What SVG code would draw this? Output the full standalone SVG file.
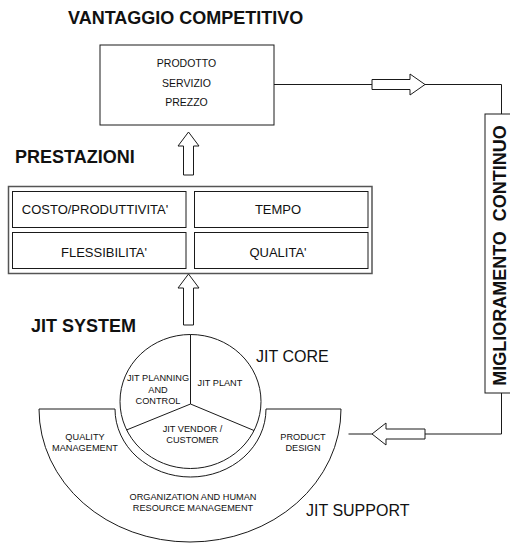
<svg xmlns="http://www.w3.org/2000/svg" width="510" height="543" viewBox="0 0 510 543">
<style>
.ln{fill:none;stroke:#1a1a1a;stroke-width:1}
.bx{fill:#fff;stroke:#1a1a1a;stroke-width:1}
.ob{fill:#fff;stroke:#555;stroke-width:1.5}
.ar{fill:#fff;stroke:#1a1a1a;stroke-width:1}
.t{font-family:"Liberation Sans",Arial,sans-serif;fill:#111;text-anchor:middle}
.h{font-family:"Liberation Sans",Arial,sans-serif;font-weight:bold;fill:#111;font-size:18px}
.s9{font-size:9.2px}
.s10{font-size:10.5px}
.s13{font-size:13px}
.s16{font-size:16px}
</style>
<rect width="510" height="543" fill="#fff"/>

<g id="connectors">
  <polyline class="ln" points="274,84.5 372,84.5"/>
  <polyline class="ln" points="425,84.5 501.5,84.5 501.5,114"/>
  <polyline class="ln" points="501.5,393 501.5,434 425,434"/>
  <line class="ln" x1="372" y1="434" x2="348.5" y2="434"/>
  <polygon class="ar" points="372,79.5 410,79.5 410,74 425,84.5 410,95 410,89.5 372,89.5"/>
  <polygon class="ar" points="425,429 386,429 386,423 372,434 386,445 386,439 425,439"/>
  <polygon class="ar" points="183.5,175 183.5,146 178,146 188.5,132 199,146 193.5,146 193.5,175"/>
  <polygon class="ar" points="183.5,325 183.5,288 178,288 188.5,274 199,288 193.5,288 193.5,325"/>
</g>

<g id="title-vantaggio">
  <text class="h" x="68" y="24">VANTAGGIO COMPETITIVO</text>
</g>

<g id="vantaggio-box">
  <rect class="bx" x="100" y="45" width="174" height="80"/>
  <text class="t s10" x="186.5" y="67">PRODOTTO</text>
  <text class="t s10" x="186.5" y="87">SERVIZIO</text>
  <text class="t s10" x="186.5" y="106">PREZZO</text>
</g>

<g id="title-prestazioni">
  <text class="h" x="15" y="163">PRESTAZIONI</text>
</g>

<g id="prestazioni-box">
  <rect class="ob" x="8.5" y="186.5" width="363.5" height="87"/>
  <g id="costo">
    <rect class="bx" x="12.5" y="191.5" width="173.5" height="36"/>
    <text class="t s13" x="95" y="214">COSTO/PRODUTTIVITA'</text>
  </g>
  <g id="tempo">
    <rect class="bx" x="194.5" y="191.5" width="173.5" height="36"/>
    <text class="t s13" x="278" y="214">TEMPO</text>
  </g>
  <g id="flessibilita">
    <rect class="bx" x="12.5" y="232.5" width="173.5" height="36"/>
    <text class="t s13" x="104" y="257">FLESSIBILITA'</text>
  </g>
  <g id="qualita">
    <rect class="bx" x="194.5" y="232.5" width="173.5" height="36"/>
    <text class="t s13" x="278" y="257">QUALITA'</text>
  </g>
</g>

<g id="miglioramento-continuo">
  <rect class="bx" x="485" y="114" width="34" height="279"/>
  <text class="h" style="text-anchor:middle;white-space:pre" transform="translate(506,255.5) rotate(-90)">MIGLIORAMENTO  CONTINUO</text>
</g>

<g id="title-jit-system">
  <text class="h" x="31" y="332">JIT SYSTEM</text>
</g>

<g id="jit-support">
  <path class="bx" d="M39,409 L115,409 A75.5,68 0 0 0 266,409 L341,409 A151,133 0 0 1 39,409 Z"/>
  <text class="t s9" x="85" y="440">QUALITY</text>
  <text class="t s9" x="85" y="451">MANAGEMENT</text>
  <text class="t s9" x="303" y="440">PRODUCT</text>
  <text class="t s9" x="303" y="451">DESIGN</text>
  <text class="t s9" x="193" y="499.5">ORGANIZATION AND HUMAN</text>
  <text class="t s9" x="193" y="510.5">RESOURCE MANAGEMENT</text>
  <text class="t s16" style="text-anchor:start" x="306" y="516">JIT SUPPORT</text>
</g>

<g id="jit-core">
  <ellipse class="bx" cx="190.5" cy="401.5" rx="70.5" ry="67"/>
  <path class="ln" d="M190.5,404 L190.5,334.5 M190.5,404 L126.5,430 M190.5,404 L254,430.5"/>
  <text class="t s9" x="158" y="381">JIT PLANNING</text>
  <text class="t s9" x="158" y="392.5">AND</text>
  <text class="t s9" x="158" y="403.5">CONTROL</text>
  <text class="t s9" x="220" y="386">JIT PLANT</text>
  <text class="t s9" x="192.5" y="432">JIT VENDOR /</text>
  <text class="t s9" x="192.5" y="442.5">CUSTOMER</text>
  <text class="t s16" style="text-anchor:start" x="256" y="362">JIT CORE</text>
</g>
</svg>
